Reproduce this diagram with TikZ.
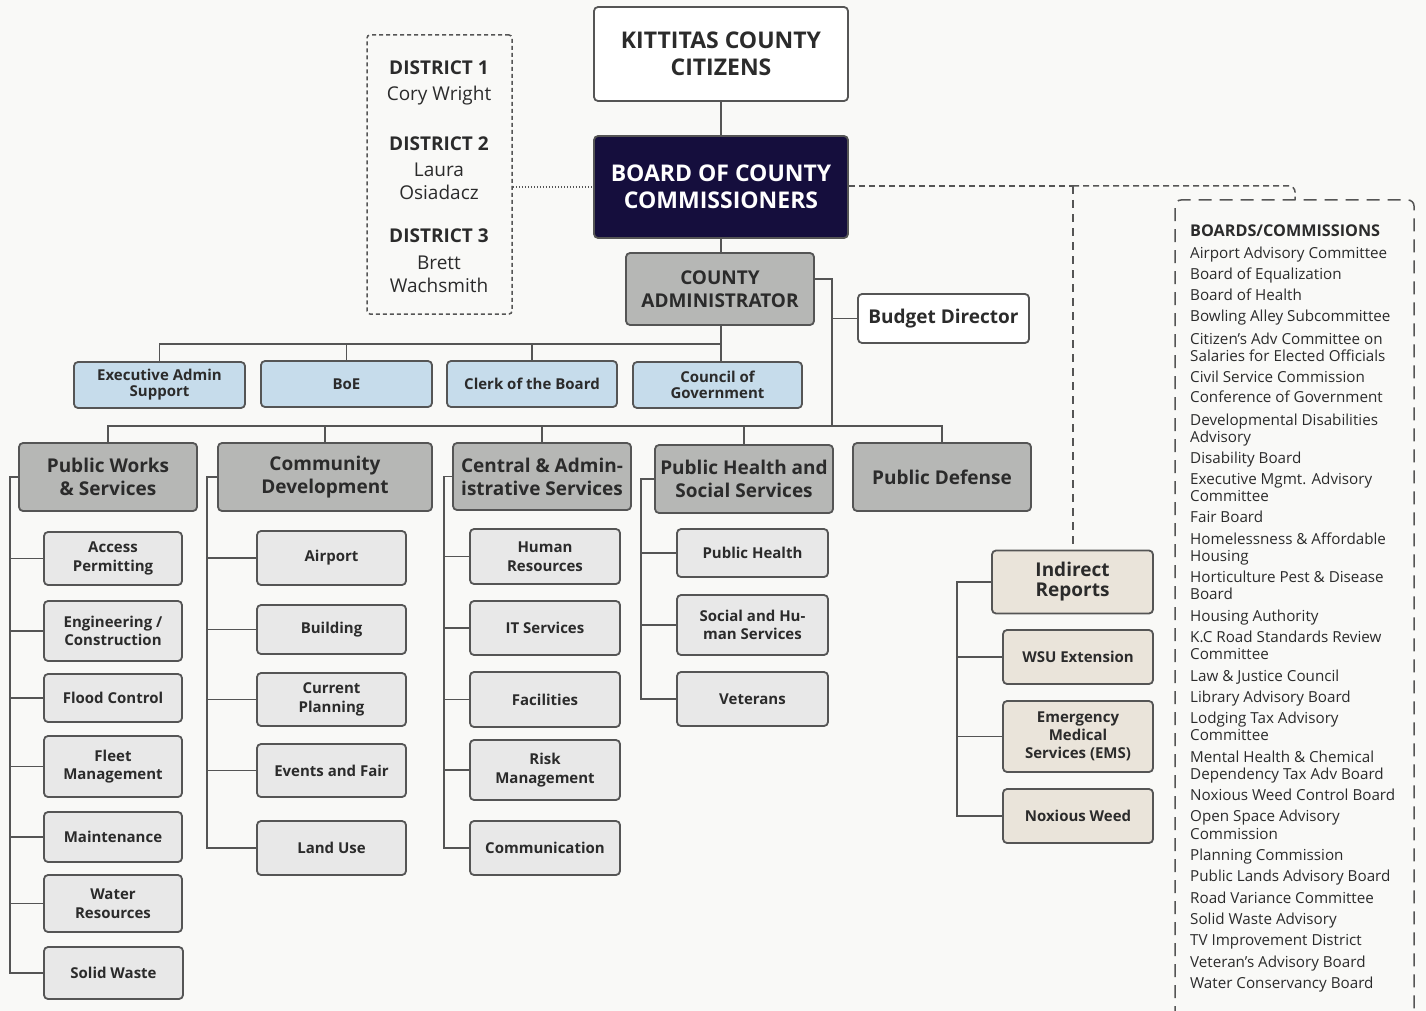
\documentclass[tikz,border=0pt]{standalone}
\usepackage{fontspec}
\setmainfont{Open Sans}
\definecolor{bgc}{HTML}{F9F9F7}
\definecolor{lc}{HTML}{555555}
\definecolor{tc}{HTML}{2B2B2B}
\definecolor{navy}{HTML}{150E3D}
\definecolor{deptc}{HTML}{B6B7B5}
\definecolor{childc}{HTML}{E8E8E8}
\definecolor{bluec}{HTML}{C6DCEB}
\definecolor{beigec}{HTML}{EAE4DA}
\begin{document}
\begin{tikzpicture}[x=1pt,y=-1pt,
 base/.style={draw=lc,line width=1.8pt,rounded corners=4pt,align=center,inner sep=2pt,text=tc},
 child/.style={base,fill=childc,font=\bfseries\fontsize{15}{18.5}\selectfont},
 bluebox/.style={base,fill=bluec,font=\bfseries\fontsize{15}{16}\selectfont},
 dept/.style={base,fill=deptc,font=\bfseries\fontsize{19}{23}\selectfont},
 beige/.style={child,fill=beigec},
 conn/.style={draw=lc,line width=1.8pt},
 listtxt/.style={anchor=west,inner sep=0pt,text height=11pt,text depth=3.5pt,yshift=-2pt,text=tc,font=\fontsize{15.2}{17}\selectfont},
 disttxt/.style={inner sep=0pt,text height=14pt,text depth=4pt,yshift=-3pt,text=tc,font=\fontsize{19}{22}\selectfont},
 disthd/.style={inner sep=0pt,text height=14pt,text depth=4pt,yshift=-3pt,text=tc,font=\bfseries\fontsize{19}{22}\selectfont}]
\useasboundingbox (0,0) rectangle (1426,1011);
\fill[bgc] (0,0) rectangle (1426,1011);
\clip (0,0) rectangle (1426,1011);

% top
\node[base,fill=white,minimum width=254,minimum height=94,font=\bfseries\fontsize{23}{27}\selectfont] (cit) at (721,54) {KITTITAS COUNTY\\CITIZENS};
\node[base,fill=navy,text=white,minimum width=254,minimum height=102,font=\bfseries\fontsize{23}{27}\selectfont] (bocc) at (721,187) {BOARD OF COUNTY\\COMMISSIONERS};
\node[base,fill=deptc,minimum width=188,minimum height=72,font=\bfseries\fontsize{19}{23}\selectfont] (ca) at (720,289) {COUNTY\\ADMINISTRATOR};
\node[base,fill=white,minimum width=171,minimum height=49,font=\bfseries\fontsize{19}{23}\selectfont] (bud) at (943.5,318.5) {Budget Director};

% districts
\node[draw=lc,line width=1.5pt,dash pattern=on 4pt off 3pt,rounded corners=3pt,minimum width=145,minimum height=279] (dist) at (439.5,174.5) {};
\node[disthd] (d1) at (439,67) {DISTRICT 1};
\node[disttxt] (n1) at (439,93) {Cory Wright};
\node[disthd] (d2) at (439,143) {DISTRICT 2};
\node[disttxt] (n2a) at (439,169) {Laura};
\node[disttxt] (n2b) at (439,192) {Osiadacz};
\node[disthd] (d3) at (439,234) {DISTRICT 3};
\node[disttxt] (n3a) at (439,261) {Brett};
\node[disttxt] (n3b) at (439,284) {Wachsmith};

% blue row
\node[bluebox,minimum width=171,minimum height=46] (exa) at (159.5,385) {Executive Admin\\Support};
\node[bluebox,minimum width=171,minimum height=46] (boe) at (346.5,384) {BoE};
\node[bluebox,minimum width=170,minimum height=46] (clk) at (532,384) {Clerk of the Board};
\node[bluebox,minimum width=169,minimum height=46] (cog) at (717.5,385) {Council of\\Government};

% departments
\node[dept,minimum width=178,minimum height=68] (pw) at (108,477) {Public Works\\\& Services};
\node[dept,minimum width=214,minimum height=68] (cd) at (325,477) {Community\\Development};
\node[dept,minimum width=178,minimum height=67] (cas) at (542,476.5) {Central \& Admin-\\istrative Services};
\node[dept,minimum width=178,minimum height=68] (ph) at (744,479) {Public Health and\\Social Services};
\node[dept,minimum width=178,minimum height=68] (pd) at (942,477) {Public Defense};

% public works children
\node[child,minimum width=138,minimum height=53] (pw1) at (113,558.5) {Access\\Permitting};
\node[child,minimum width=138,minimum height=60] (pw2) at (113,631) {Engineering /\\Construction};
\node[child,minimum width=138,minimum height=48] (pw3) at (113,698) {Flood Control};
\node[child,minimum width=138,minimum height=61] (pw4) at (113,766.5) {Fleet\\Management};
\node[child,minimum width=138,minimum height=50] (pw5) at (113,837) {Maintenance};
\node[child,minimum width=138,minimum height=57] (pw6) at (113,903.5) {Water\\Resources};
\node[child,minimum width=139,minimum height=52] (pw7) at (113.5,973) {Solid Waste};

% community development children
\node[child,minimum width=149,minimum height=54] (cd1) at (331.5,558) {Airport};
\node[child,minimum width=149,minimum height=49] (cd2) at (331.5,629.5) {Building};
\node[child,minimum width=149,minimum height=53] (cd3) at (331.5,699.5) {Current\\Planning};
\node[child,minimum width=149,minimum height=53] (cd4) at (331.5,770.5) {Events and Fair};
\node[child,minimum width=149,minimum height=54] (cd5) at (331.5,848) {Land Use};

% central children
\node[child,minimum width=150,minimum height=55] (ca1) at (545,556.5) {Human\\Resources};
\node[child,minimum width=150,minimum height=54] (ca2) at (545,628) {IT Services};
\node[child,minimum width=150,minimum height=55] (ca3) at (545,699.5) {Facilities};
\node[child,minimum width=150,minimum height=60] (ca4) at (545,770) {Risk\\Management};
\node[child,minimum width=150,minimum height=54] (ca5) at (545,848) {Communication};

% public health children
\node[child,minimum width=151,minimum height=48] (ph1) at (752.5,553) {Public Health};
\node[child,minimum width=151,minimum height=60] (ph2) at (752.5,625) {Social and Hu-\\man Services};
\node[child,minimum width=151,minimum height=54] (ph3) at (752.5,699) {Veterans};

% indirect
\node[beige,minimum width=161,minimum height=63,font=\bfseries\fontsize{19}{20}\selectfont] (ind) at (1072.5,582) {Indirect\\Reports};
\node[beige,minimum width=150,minimum height=54] (in1) at (1078,657) {WSU Extension};
\node[beige,minimum width=150,minimum height=71,font=\bfseries\fontsize{15}{18}\selectfont] (in2) at (1078,736.5) {Emergency\\Medical\\Services (EMS)};
\node[beige,minimum width=150,minimum height=54] (in3) at (1078,816) {Noxious Weed};

% connectors top
\draw[conn] (cit.south) -- (bocc.north);
\draw[conn] (bocc.south) -- (bocc.south |- ca.north);
\coordinate (busA) at (721,344);
\draw[conn] (ca.south -| busA) -- (busA |- cog.north);
\draw[conn] (exa.north) |- (busA);
\draw[conn] (boe.north) -- (boe.north |- busA);
\draw[conn] (clk.north) -- (clk.north |- busA);
\coordinate (busB) at (832,426);
\draw[conn] ([yshift=10pt]ca.east) -| (busB);
\draw[conn] (bud.west) -- (bud.west -| busB);
\draw[conn] (pw.north) |- (busB) -| (pd.north);
\draw[conn] (cd.north) -- (cd.north |- busB);
\draw[conn] (cas.north) -- (cas.north |- busB);
\draw[conn] (ph.north) -- (ph.north |- busB);
\draw[lc,line width=1.5pt,dash pattern=on 1.5pt off 1.5pt] (dist.east |- bocc.west) -- (bocc.west);

% spines
\foreach \c in {pw1,pw2,pw3,pw4,pw5,pw6,pw7}{\draw[conn] (pw.west) -- ++(-8,0) |- (\c.west);}
\foreach \c in {cd1,cd2,cd3,cd4,cd5}{\draw[conn] (cd.west) -- ++(-10,0) |- (\c.west);}
\foreach \c in {ca1,ca2,ca3,ca4,ca5}{\draw[conn] (cas.west) -- ++(-8,0) |- (\c.west);}
\foreach \c in {ph1,ph2,ph3}{\draw[conn] (ph.west) -- ++(-13,0) |- (\c.west);}
\foreach \c in {in1,in2,in3}{\draw[conn] (ind.west) -- ++(-34,0) |- (\c.west);}

% dashed lines to indirect and boards
\coordinate (dj) at (1073,186);
\coordinate (bt) at (1295,200);
\draw[lc,line width=1.5pt,dash pattern=on 6pt off 4pt] (bocc.east |- dj) -- (dj);
\draw[lc,line width=1.5pt,dash pattern=on 6pt off 4pt,rounded corners=6pt] (dj) -- (dj -| bt) -- (bt);
\draw[lc,line width=1.5pt,dash pattern=on 8pt off 6pt] (dj) -- (dj |- ind.north);
\draw[lc,line width=1.5pt,dash pattern=on 13pt off 8pt,rounded corners=6pt] (1175,1040) -- (1175,200) -- (1414,200) -- (1414,1040);

% boards list
\node[listtxt,font=\bfseries\fontsize{16.2}{18}\selectfont] (bh) at (1190,231) {BOARDS/COMMISSIONS};
\foreach \yy/\tt [count=\i] in {
253/Airport Advisory Committee,
274/Board of Equalization,
295/Board of Health,
316/Bowling Alley Subcommittee,
339/Citizen’s Adv Committee on,
356/Salaries for Elected Officials,
377/Civil Service Commission,
397/Conference of Government,
420/Developmental Disabilities,
437/Advisory,
458/Disability Board,
479/Executive Mgmt. Advisory,
496/Committee,
517/Fair Board,
539/Homelessness \& Affordable,
556/Housing,
577/Horticulture Pest \& Disease,
594/Board,
616/Housing Authority,
637/K.C Road Standards Review,
654/Committee,
676/Law \& Justice Council,
697/Library Advisory Board,
718/Lodging Tax Advisory,
735/Committee,
757/Mental Health \& Chemical,
774/Dependency Tax Adv Board,
795/Noxious Weed Control Board,
816/Open Space Advisory,
834/Commission,
855/Planning Commission,
876/Public Lands Advisory Board,
898/Road Variance Committee,
919/Solid Waste Advisory,
940/TV Improvement District,
962/Veteran’s Advisory Board,
983/Water Conservancy Board}
{\node[listtxt] (bl\i) at (1190,\yy) {\tt};}
\end{tikzpicture}
\end{document}
